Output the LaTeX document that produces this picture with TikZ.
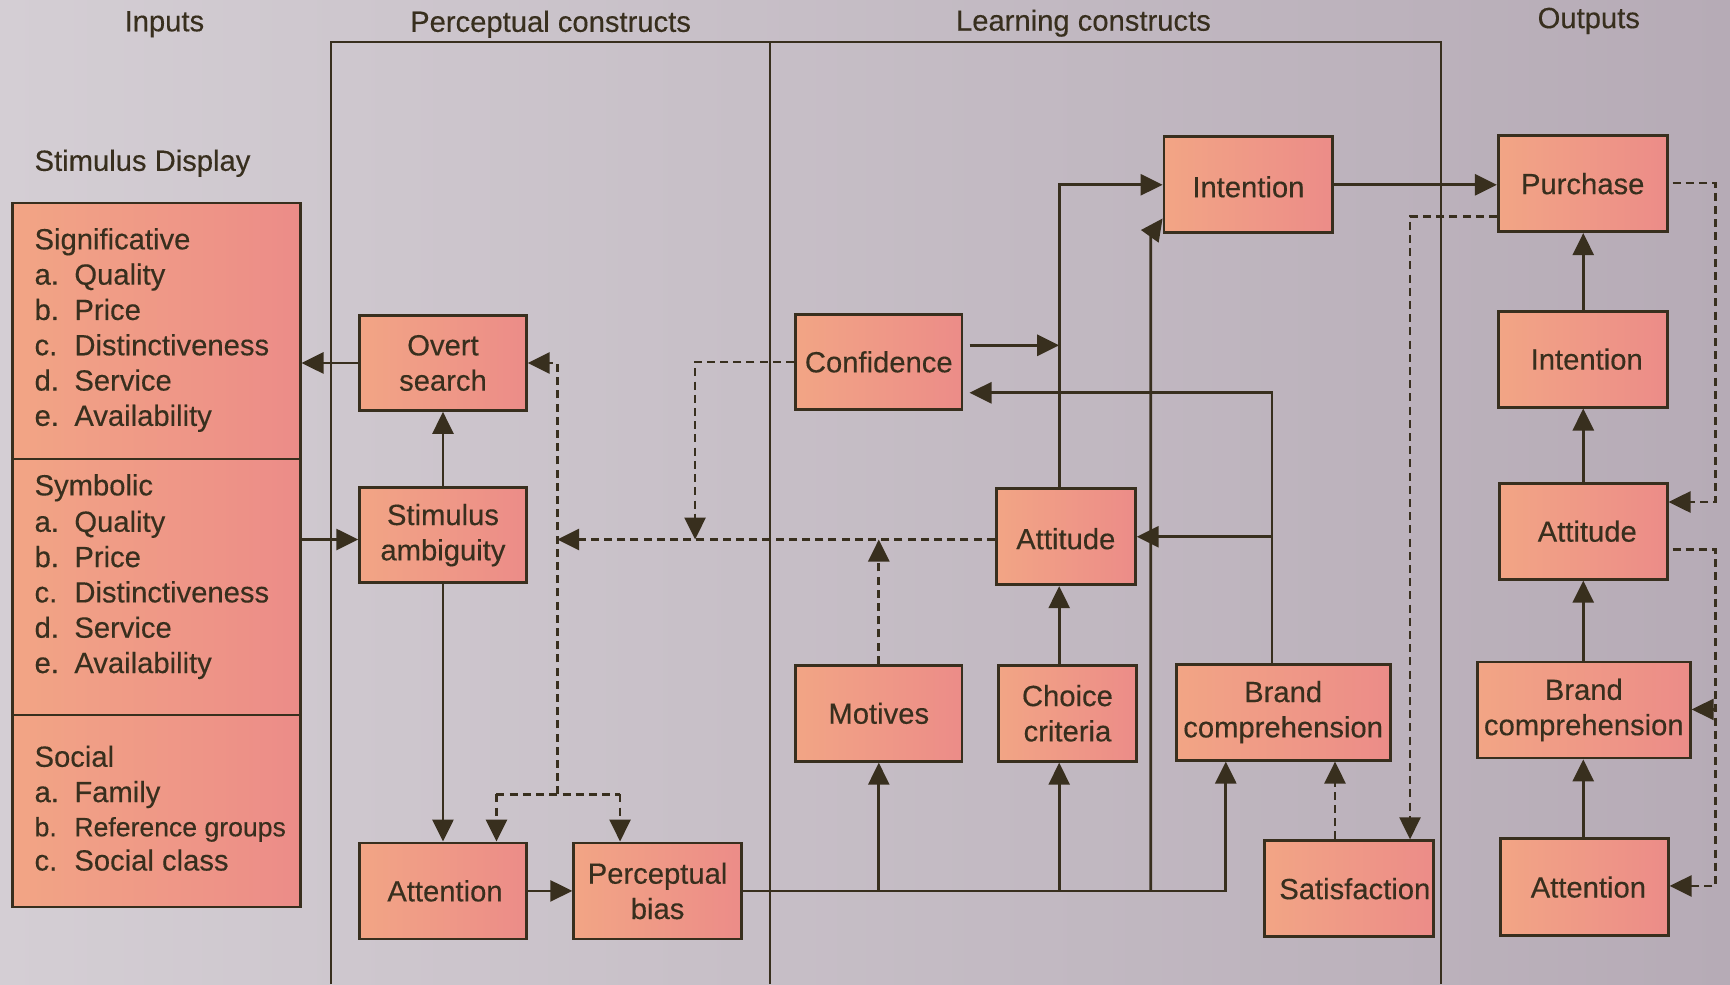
\documentclass[tikz,border=0pt]{standalone}
\usepackage{fontspec}
\setmainfont[FakeBold=0.3,AutoFakeBold=0.3]{Liberation Sans}
\usetikzlibrary{arrows.meta,fit}
\definecolor{ink}{HTML}{382F1E}
\definecolor{bgL}{HTML}{D4CED4}
\definecolor{bgR}{HTML}{B6ABB6}
\definecolor{boxL}{HTML}{F2A585}
\definecolor{boxR}{HTML}{EC8C88}
\newcommand\itm[2]{\makebox[19.9pt][l]{#1}#2}
\begin{document}
\begin{tikzpicture}[x=0.5516pt,y=-0.5516pt,
  font=\fontsize{14.6pt}{17.65pt}\selectfont\bfseries,
  every node/.style={text=ink},
  box/.style={draw=ink, line width=1.4pt, left color=boxL, right color=boxR, inner sep=0pt},
  btxt/.style={align=center, inner sep=0pt},
  ln/.style={draw=ink, line width=1.35pt},
  arr/.style={ln, -{Triangle[length=11pt,width=10.5pt]}},
  dsh/.style={ln, dash pattern=on 4pt off 2.6pt},
  darr/.style={dsh, -{Triangle[length=11pt,width=10.5pt]}},
  lbl/.style={anchor=base west, inner sep=0pt}
]
\useasboundingbox (0,0) rectangle (1568,892);
\fill[left color=bgL, right color=bgR] (0,0) rectangle (1568,892);

% frame
\draw[ln] (300,892) -- (300,38) -- (1306,38) -- (1306,892);
\draw[ln] (698,38) -- (698,892);

% titles
\node (tIn) at (149,22) {Inputs};
\node (tPc) at (499,22) {Perceptual constructs};
\node (tLc) at (982,21) {Learning constructs};
\node (tOut) at (1440,19) {Outputs};
\node[anchor=west, inner sep=0pt] (tSD) at (31,148) {Stimulus Display};

% input boxes
\node[box, fit={(11,184) (272,416)}] (sig) {};
\node[box, fit={(11,416) (272,648)}] (sym) {};
\node[box, fit={(11,648) (272,822)}] (soc) {};

\node[lbl] (s0) at (31,226) {Significative};
\node[lbl] (s1) at (31,258) {\itm{a.}{Quality}};
\node[lbl] (s2) at (31,290) {\itm{b.}{Price}};
\node[lbl] (s3) at (31,322) {\itm{c.}{Distinctiveness}};
\node[lbl] (s4) at (31,354) {\itm{d.}{Service}};
\node[lbl] (s5) at (31,386) {\itm{e.}{Availability}};

\node[lbl] (y0) at (31,449) {Symbolic};
\node[lbl] (y1) at (31,482) {\itm{a.}{Quality}};
\node[lbl] (y2) at (31,514) {\itm{b.}{Price}};
\node[lbl] (y3) at (31,546) {\itm{c.}{Distinctiveness}};
\node[lbl] (y4) at (31,578) {\itm{d.}{Service}};
\node[lbl] (y5) at (31,610) {\itm{e.}{Availability}};

\node[lbl] (c0) at (31,695) {Social};
\node[lbl] (c1) at (31,727) {\itm{a.}{Family}};
\node[lbl] (c2) at (31,758) {\fontsize{13.3pt}{16pt}\selectfont\itm{b.}{Reference groups}};
\node[lbl] (c3) at (31,789) {\itm{c.}{Social class}};

% perceptual boxes
\node[box, fit={(326,286) (477,372)}] (os) {};
\node[box, fit={(326,442) (477,528)}] (sa) {};
\node[box, fit={(326,764) (477,851)}] (at1) {};
\node[box, fit={(520,764) (672,851)}] (pb) {};

% learning boxes
\node[box, fit={(721,285) (872,371)}] (conf) {};
\node[box, fit={(1055,124) (1208,211)}] (int) {};
\node[box, fit={(903,443) (1029,530)}] (att) {};
\node[box, fit={(721,603) (872,690)}] (mot) {};
\node[box, fit={(905,603) (1030,690)}] (cc) {};
\node[box, fit={(1066,602) (1260,689)}] (bc) {};
\node[box, fit={(1146,762) (1299,849)}] (sat) {};

% output boxes
\node[box, fit={(1358,123) (1511,210)}] (pur) {};
\node[box, fit={(1358,282) (1511,369)}] (int2) {};
\node[box, fit={(1359,438) (1511,525)}] (att2) {};
\node[box, fit={(1339,600) (1532,687)}] (bc2) {};
\node[box, fit={(1360,760) (1512,848)}] (at3) {};

% box texts
\node[btxt] (osT) at (os.center) {Overt\\search};
\node[btxt] (saT) at (sa.center) {Stimulus\\ambiguity};
\node[btxt] (at1T) at ([xshift=1pt]at1.center) {Attention};
\node[btxt] (pbT) at (pb.center) {Perceptual\\bias};
\node[btxt] (confT) at (conf.center) {Confidence};
\node[btxt] (intT) at ([yshift=-1pt]int.center) {Intention};
\node[btxt] (attT) at ([yshift=-1pt]att.center) {Attitude};
\node[btxt] (motT) at (mot.center) {Motives};
\node[btxt] (ccT) at (cc.center) {Choice\\criteria};
\node[btxt] (bcT) at (bc.center) {Brand\\comprehension};
\node[btxt] (satT) at ([xshift=3pt]sat.center) {Satisfaction};
\node[btxt] (purT) at (pur.center) {Purchase};
\node[btxt] (int2T) at ([xshift=2pt]int2.center) {Intention};
\node[btxt] (att2T) at ([xshift=2pt]att2.center) {Attitude};
\node[btxt] (bc2T) at (bc2.center) {Brand\\comprehension};
\node[btxt] (at3T) at ([xshift=2pt]at3.center) {Attention};

% helper coordinates
\coordinate (fkM) at (505,720);
\coordinate (fkL) at (450,720);
\coordinate (fkR) at (562,720);
\coordinate (cx) at (630,0);
\coordinate (ax) at (960,0);
\coordinate (ix) at (1043,0);
\coordinate (iy) at (0,213);
\coordinate (iy2) at (0,198);
\coordinate (bx) at (1111,0);
\coordinate (bcx) at (1153,0);
\coordinate (cy) at (0,313);
\coordinate (cy2) at (0,356);
\coordinate (sx) at (1278,0);
\coordinate (sx2) at (1210,0);
\coordinate (py) at (0,196);
\coordinate (ox) at (1435,0);
\coordinate (rx) at (1555,0);
\coordinate (r1) at (0,166);
\coordinate (r2) at (0,455);
\coordinate (r3) at (0,498);
\coordinate (r4) at (0,803);
\coordinate (r5) at (0,643);
\coordinate (sy) at (0,489);

% perceptual connectors
\draw[arr] (os.west) -- (os.west -| sig.east);
\draw[arr] (sym.east |- sy) -- (sa.west |- sy);
\draw[arr] (sa.north) -- (os.south);
\draw[arr] (sa.south) -- (at1.north);
\draw[arr] (at1.east) -- (pb.west);

\draw[dsh] (fkL) -- (fkR);
\draw[darr] (fkM) |- (os.east);
\draw[darr] (fkL) -- (fkL |- at1.north);
\draw[darr] (fkR) -- (fkR |- pb.north);
\draw[darr] (att.west |- sy) -- (fkM |- sy);
\draw[darr] (conf.west) -| (cx |- sy);
\draw[darr] (mot.north) -- (mot.north |- sy);

% learning connectors
\draw[arr] (pb.east) -| (bx |- bc.south);
\draw[arr] (mot.south |- pb.east) -- (mot.south);
\draw[arr] (ax |- pb.east) -- (ax |- cc.south);
\draw[arr] (ax |- cc.north) -- (ax |- att.south);
\draw[arr] (ax |- att.north) |- (int.west);
\draw[arr] (ix |- pb.east) -- (ix |- iy) -- (int.west |- iy2);
\draw[arr, shorten <=3pt] (conf.east |- cy) -- (ax |- cy);
\draw[arr, shorten >=3pt] (bcx |- bc.north) |- (conf.east |- cy2);
\draw[arr] (bcx |- att.east) -- (att.east);
\draw[arr] (int.east) -- (int.east -| pur.west);
\draw[darr] (pur.west |- py) -| (sx |- sat.north);
\draw[darr] (sx2 |- sat.north) -- (sx2 |- bc.south);

% output connectors
\draw[arr] (ox |- at3.north) -- (ox |- bc2.south);
\draw[arr] (ox |- bc2.north) -- (ox |- att2.south);
\draw[arr] (ox |- att2.north) -- (ox |- int2.south);
\draw[arr] (ox |- int2.north) -- (ox |- pur.south);
\draw[darr, shorten <=2pt] (pur.east |- r1) -| (rx |- r2) -- (att2.east |- r2);
\draw[darr, shorten <=2pt] (att2.east |- r3) -| (rx |- r4) -- (at3.east |- r4);
\draw[darr] (rx |- r5) -- (bc2.east |- r5);
\end{tikzpicture}
\end{document}
